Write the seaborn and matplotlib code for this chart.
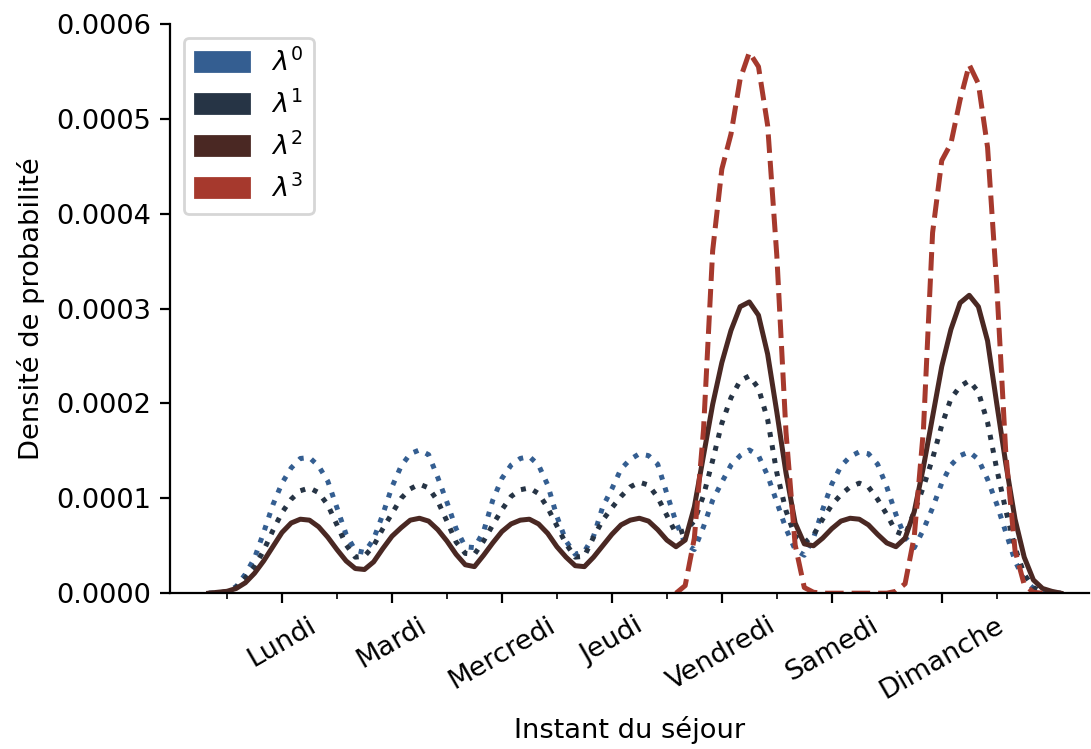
import numpy as np
import pandas as pd
import matplotlib
matplotlib.use("Agg")
import matplotlib.pyplot as plt
import seaborn as sns
from matplotlib.patches import Patch
from matplotlib.ticker import FormatStrFormatter

# --- data (density values in units of 1e-4) ---
days = ["Lundi", "Mardi", "Mercredi", "Jeudi", "Vendredi", "Samedi", "Dimanche"]
labels = [r"$\lambda^0$", r"$\lambda^1$", r"$\lambda^2$", r"$\lambda^3$"]

# hour of the week, every 2 hours
hours = list(range(-4, 184, 2))
hours_l3 = list(range(98, 180, 2))

lam0 = [0.00, 0.00, 0.01, 0.07, 0.20, 0.37, 0.64, 0.93, 1.16, 1.32,
        1.42, 1.43, 1.34, 1.18, 0.90, 0.62, 0.45, 0.43, 0.57, 0.83,
        1.12, 1.34, 1.47, 1.51, 1.46, 1.22, 0.96, 0.68, 0.49, 0.48,
        0.65, 0.98, 1.21, 1.35, 1.42, 1.44, 1.35, 1.14, 0.81, 0.55,
        0.41, 0.44, 0.60, 0.91, 1.10, 1.31, 1.41, 1.47, 1.45, 1.36,
        1.05, 0.75, 0.52, 0.46, 0.70, 0.98, 1.17, 1.35, 1.45, 1.51,
        1.45, 1.24, 0.96, 0.68, 0.46, 0.40, 0.58, 0.88, 1.15, 1.34,
        1.44, 1.49, 1.47, 1.36, 1.12, 0.83, 0.59, 0.48, 0.67, 0.90,
        1.16, 1.35, 1.45, 1.49, 1.41, 1.20, 0.94, 0.64, 0.34, 0.14,
        0.05, 0.01, 0.00, 0.00]

lam1 = [0.00, 0.00, 0.02, 0.06, 0.16, 0.28, 0.45, 0.66, 0.85, 0.99,
        1.08, 1.11, 1.06, 0.93, 0.72, 0.51, 0.38, 0.39, 0.50, 0.68,
        0.84, 1.00, 1.10, 1.15, 1.11, 0.97, 0.76, 0.54, 0.42, 0.41,
        0.55, 0.72, 0.88, 1.02, 1.09, 1.11, 1.05, 0.90, 0.71, 0.52,
        0.38, 0.39, 0.59, 0.77, 0.90, 1.02, 1.12, 1.17, 1.14, 1.01,
        0.82, 0.63, 0.66, 0.76, 1.03, 1.40, 1.79, 2.06, 2.24, 2.29,
        2.16, 1.83, 1.27, 0.87, 0.60, 0.53, 0.61, 0.78, 0.93, 1.04,
        1.12, 1.16, 1.12, 0.99, 0.83, 0.65, 0.61, 0.86, 1.12, 1.42,
        1.77, 2.05, 2.18, 2.24, 2.12, 1.80, 1.31, 0.87, 0.48, 0.20,
        0.06, 0.01, 0.00, 0.00]

lam2 = [0.00, 0.01, 0.02, 0.05, 0.11, 0.21, 0.34, 0.49, 0.64, 0.74,
        0.78, 0.77, 0.70, 0.59, 0.46, 0.34, 0.26, 0.25, 0.33, 0.47,
        0.60, 0.69, 0.77, 0.79, 0.76, 0.67, 0.55, 0.41, 0.30, 0.28,
        0.40, 0.53, 0.65, 0.73, 0.77, 0.78, 0.73, 0.63, 0.49, 0.38,
        0.29, 0.28, 0.38, 0.50, 0.62, 0.72, 0.77, 0.79, 0.76, 0.67,
        0.56, 0.49, 0.56, 0.91, 1.45, 1.99, 2.43, 2.77, 3.02, 3.07,
        2.93, 2.52, 1.91, 1.27, 0.74, 0.52, 0.50, 0.58, 0.68, 0.76,
        0.79, 0.78, 0.72, 0.62, 0.53, 0.49, 0.58, 0.86, 1.33, 1.86,
        2.39, 2.78, 3.06, 3.14, 3.02, 2.66, 2.00, 1.36, 0.78, 0.38,
        0.14, 0.05, 0.02, 0.00]

lam3 = [0.00, 0.08, 0.58, 1.72, 3.61, 4.47, 4.84, 5.42, 5.70, 5.55,
        4.93, 3.56, 1.70, 0.51, 0.06, 0.01, 0.00, 0.00, 0.00, 0.00,
        0.00, 0.00, 0.00, 0.00, 0.02, 0.10, 0.60, 1.72, 3.80, 4.56,
        4.74, 5.20, 5.57, 5.37, 4.70, 3.25, 1.46, 0.45, 0.09, 0.01,
        0.00]

colors = ["#345e91", "#263445", "#4a2823", "#a6392d"]
styles = [":", ":", "-", "--"]

df = pd.DataFrame({"heure": hours, "l0": lam0, "l1": lam1, "l2": lam2})
df3 = pd.DataFrame({"heure": hours_l3, "l3": lam3})

plt.rcParams["font.size"] = 9.8
fig, ax = plt.subplots(figsize=(5.455, 3.745), dpi=200)

series = [(df, "l0"), (df, "l1"), (df, "l2"), (df3, "l3")]
for (d, col), c, ls in zip(series, colors, styles):
    sns.lineplot(x=d["heure"], y=d[col] * 1e-4, color=c, linestyle=ls,
                 linewidth=1.8, ax=ax)

# x axis: labels at the middle of each day, minor ticks at day boundaries
ax.set_xticks([12 + 24 * i for i in range(7)])
ax.set_xticklabels(days, rotation=30, ha="center")
ax.set_xticks([24 * i for i in range(8)], minor=True)
ax.set_xlim(-12.4, 188.1)

ax.set_ylim(0, 0.0006)
ax.set_yticks([0.0001 * i for i in range(7)])
ax.yaxis.set_major_formatter(FormatStrFormatter("%.4f"))

ax.set_xlabel("Instant du séjour")
ax.set_ylabel("Densité de probabilité")

handles = [Patch(facecolor=c, edgecolor=c, label=l) for c, l in zip(colors, labels)]
ax.legend(handles=handles, loc="upper left")

sns.despine(ax=ax)
fig.subplots_adjust(left=0.156, right=0.998, top=0.968, bottom=0.208)
fig.savefig("out.png", dpi=200)
